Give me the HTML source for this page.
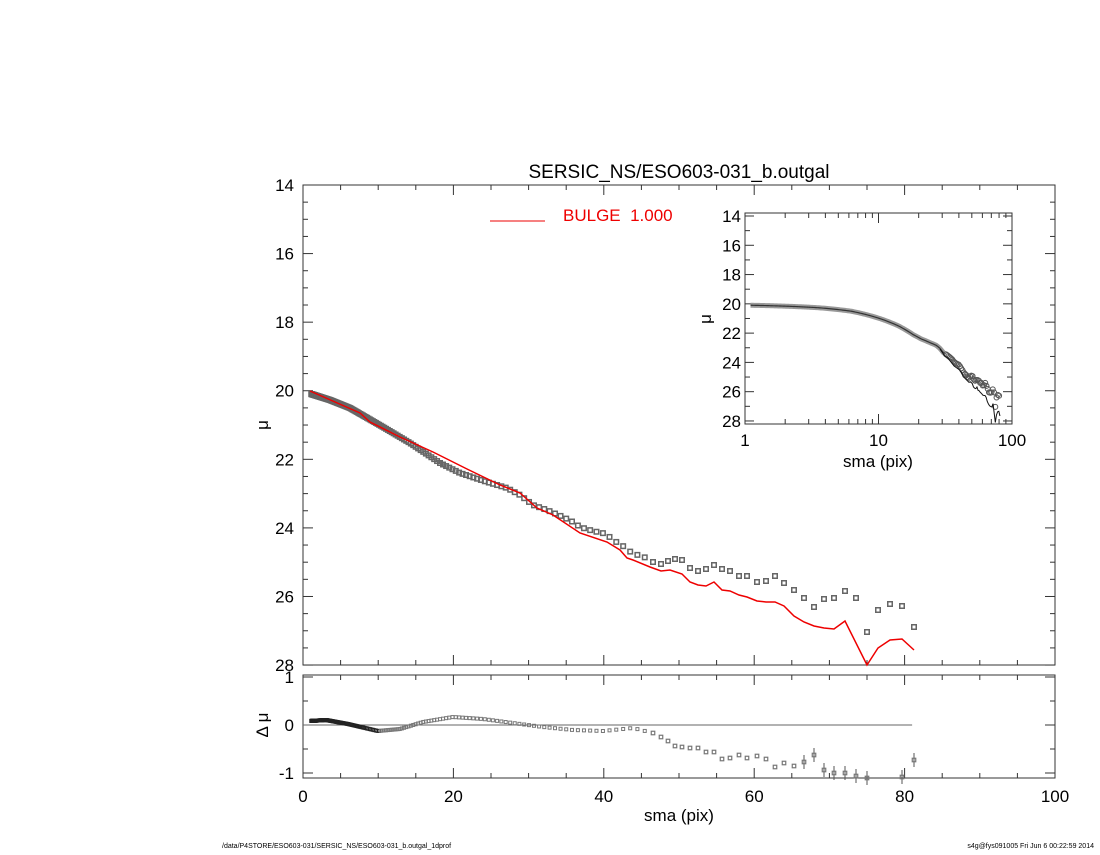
<!DOCTYPE html>
<html><head><meta charset="utf-8"><style>
body{margin:0;background:#fff;width:1100px;height:850px;overflow:hidden}
svg text{font-family:"Liberation Sans",sans-serif;fill:#000}
</style></head><body>
<svg id="s" width="1100" height="850" xmlns="http://www.w3.org/2000/svg"></svg>
<script>
const S=document.getElementById('s');let h='';
const X0=303,X1=1055,sx=(X1-X0)/100;
const mx=v=>X0+v*sx, my=m=>185+(m-14)*34.29;
const inv=x=>(x-X0)/sx;
h+=`<rect x="${X0}" y="185" width="${X1-X0}" height="480" fill="none" stroke="#333" stroke-width="1"/>`;
h+=`<rect x="${X0}" y="675" width="${X1-X0}" height="103" fill="none" stroke="#333" stroke-width="1"/>`;
for(let v=0;v<=100;v+=5){const x=mx(v),L=v%20==0?10:5;
h+=`<line x1="${x}" y1="665" x2="${x}" y2="${665-L}" stroke="#333"/><line x1="${x}" y1="185" x2="${x}" y2="${185+L}" stroke="#333"/>`;
h+=`<line x1="${x}" y1="778" x2="${x}" y2="${778-L}" stroke="#333"/><line x1="${x}" y1="675" x2="${x}" y2="${675+L}" stroke="#333"/>`;
if(v%20==0)h+=`<text x="${x}" y="802" font-size="17" text-anchor="middle">${v}</text>`;}
for(let m=14;m<=28;m+=0.5){const y=my(m),L=m%2==0?10:5;
h+=`<line x1="${X0}" y1="${y}" x2="${X0+L}" y2="${y}" stroke="#333"/><line x1="${X1}" y1="${y}" x2="${X1-L}" y2="${y}" stroke="#333"/>`;
if(m%2==0)h+=`<text x="294" y="${y+6}" font-size="17" text-anchor="end">${m}</text>`;}
const ry=r=>725-r*48;
for(let r=-1;r<=1;r+=0.5){const y=ry(r),L=r%1==0?10:5;
h+=`<line x1="${X0}" y1="${y}" x2="${X0+L}" y2="${y}" stroke="#333"/><line x1="${X1}" y1="${y}" x2="${X1-L}" y2="${y}" stroke="#333"/>`;
if(r%1==0)h+=`<text x="294" y="${y+6}" font-size="17" text-anchor="end">${r}</text>`;}
h+=`<text x="679" y="178" font-size="19" text-anchor="middle">SERSIC_NS/ESO603-031_b.outgal</text>`;
h+=`<text x="679" y="821" font-size="17" text-anchor="middle">sma (pix)</text>`;
h+=`<text transform="translate(268,425) rotate(-90)" font-size="17" text-anchor="middle">μ</text>`;
h+=`<text transform="translate(268,725) rotate(-90)" font-size="17" text-anchor="middle">Δ μ</text>`;
h+=`<line x1="490" y1="221" x2="545" y2="221" stroke="#e00" stroke-width="1"/><text x="563" y="221" font-size="17" style="fill:#e00;white-space:pre" xml:space="preserve">BULGE  1.000</text>`;
h+=`<line x1="${mx(0)}" y1="725" x2="${mx(81)}" y2="725" stroke="#666" stroke-width="1"/>`;
const D=[[308,393],[330,400],[350,408],[383,427],[410,443],[440,463],[460,473],[487,482],[507,488],[520,495],[533,505],[547,510],[563,517],[573,522],[580,527],[593,531],[607,534],[613,541],[620,543],[627,550],[633,553],[640,556],[647,558],[653,562],[661,564],[668,561],[675,559],[682,560],[690,568],[698,571],[706,569],[714,565],[722,569],[730,571],[739,576],[747,576],[757,582],[766,581],[775,576],[784,583],[794,590],[804,598],[814,607],[824,599],[834,598],[845,591],[856,598],[867,632],[878,610],[890,604],[902,606],[914,627]];
const M=[[310,391],[360,413],[370,422],[400,437],[433,452],[467,469],[500,485],[520,493],[537,508],[553,515],[580,533],[607,542],[620,550],[627,558],[633,560],[650,567],[661,571],[670,570],[682,574],[690,582],[698,585],[706,586],[714,582],[722,590],[730,591],[739,595],[747,597],[757,601],[766,602],[775,602],[784,606],[794,616],[804,622],[814,626],[824,628],[834,629],[845,621],[867,665],[878,648],[890,640],[902,639],[914,650]];
const R=[[310,721],[326,720],[348,724],[378,731],[400,729],[423,722],[453,717],[483,719],[513,723],[543,727],[573,730],[603,731],[633,728],[653,733],[661,737],[668,741],[675,746],[682,747],[690,748],[698,748],[706,752],[714,752],[722,759],[730,758],[739,755],[747,758],[757,756],[766,759],[775,767],[784,763],[794,766],[804,762],[814,755],[824,770],[834,773],[845,773],[856,776],[867,778],[878,781],[890,784],[902,777],[914,760]];
const interp=(A,x)=>{if(x<=A[0][0])return A[0][1];for(let i=1;i<A.length;i++)if(x<=A[i][0]){const t=(x-A[i-1][0])/(A[i][0]-A[i-1][0]);return A[i-1][1]+t*(A[i][1]-A[i-1][1]);}return A[A.length-1][1];};
let xs=[];for(let s=1.1;s<=81.5;s*=1.022)xs.push(mx(s));
const sq=(x,y,w,c,sw)=>`<rect x="${x-w/2}" y="${y-w/2}" width="${w}" height="${w}" fill="none" stroke="${c}" stroke-width="${sw||1.5}"/>`;
xs.forEach(x=>{if(x>650)return;h+=sq(x,interp(D,x),4.5,'#666');});
D.filter(p=>p[0]>650).forEach(p=>h+=sq(p[0],p[1],4.5,'#666'));
h+=`<polyline points="${M.map(p=>p.join(',')).join(' ')}" fill="none" stroke="#e00" stroke-width="1.5"/>`;
xs.forEach(x=>{if(x>650)return;const y=interp(R,x);h+=sq(x,y,3,x<380?'#222':'#777',1);});
R.filter(p=>p[0]>=653&&p[1]<=778).forEach(p=>{if(p[0]>800)h+=`<line x1="${p[0]}" y1="${p[1]-7}" x2="${p[0]}" y2="${p[1]+7}" stroke="#555"/>`;h+=sq(p[0],p[1],3.5,'#777',1.2);});
const IX0=745,IX1=1012,IT=213,IB=424;const ix=s=>IX0+Math.log10(s)*(IX1-IX0)/2, iy=m=>216+(m-14)*14.64;
h+=`<rect x="${IX0}" y="${IT}" width="${IX1-IX0}" height="${IB-IT}" fill="none" stroke="#333"/>`;
for(let d=1;d<=100;d*=10)for(let k=1;k<10;k++){const v=d*k;if(v>100)break;const x=ix(v),L=k==1?10:5;h+=`<line x1="${x}" y1="${IB}" x2="${x}" y2="${IB-L}" stroke="#333"/><line x1="${x}" y1="${IT}" x2="${x}" y2="${IT+L}" stroke="#333"/>`;if(k==1)h+=`<text x="${x}" y="446" font-size="17" text-anchor="middle">${v}</text>`;}
for(let m=14;m<=28;m+=1){const y=iy(m),L=m%2==0?9:5;h+=`<line x1="${IX0}" y1="${y}" x2="${IX0+L}" y2="${y}" stroke="#333"/><line x1="${IX1}" y1="${y}" x2="${IX1-L}" y2="${y}" stroke="#333"/>`;if(m%2==0)h+=`<text x="741" y="${y+6}" font-size="17" text-anchor="end">${m}</text>`;}
h+=`<text x="878" y="467" font-size="17" text-anchor="middle">sma (pix)</text>`;
h+=`<text transform="translate(711,319) rotate(-90)" font-size="17" text-anchor="middle">μ</text>`;
const toMu=y=>(y-185)/34.29+14;
let band=[];xs.forEach(x=>{const s=inv(x);if(s<1)return;const y=x>650?D.reduce((a,p)=>Math.abs(p[0]-x)<Math.abs(a[0]-x)?p:a)[1]:interp(D,x);band.push([ix(s),iy(toMu(y))]);});
h+=`<polyline points="${band.filter(p=>p[0]<945).map(p=>p.join(',')).join(' ')}" fill="none" stroke="#999" stroke-width="5"/>`;
h+=`<polyline points="${band.filter(p=>p[0]<945).map(p=>p.join(',')).join(' ')}" fill="none" stroke="#333" stroke-width="1.2"/>`;
band.filter(p=>p[0]>=945).forEach(p=>h+=`<circle cx="${p[0]}" cy="${p[1]}" r="2.5" fill="none" stroke="#555"/>`);
h+=`<polyline points="${M.filter(p=>p[0]>500).map(p=>[ix(inv(p[0])),iy(toMu(p[1])+0.1)].join(',')).join(' ')}" fill="none" stroke="#111" stroke-width="1"/>`;
h+=`<text x="222" y="848" font-size="7">/data/P4STORE/ESO603-031/SERSIC_NS/ESO603-031_b.outgal_1dprof</text>`;
h+=`<text x="1094" y="848" font-size="7" text-anchor="end">s4g@fys091005  Fri Jun  6 00:22:59 2014</text>`;
S.innerHTML=h;
</script>
</body></html>
